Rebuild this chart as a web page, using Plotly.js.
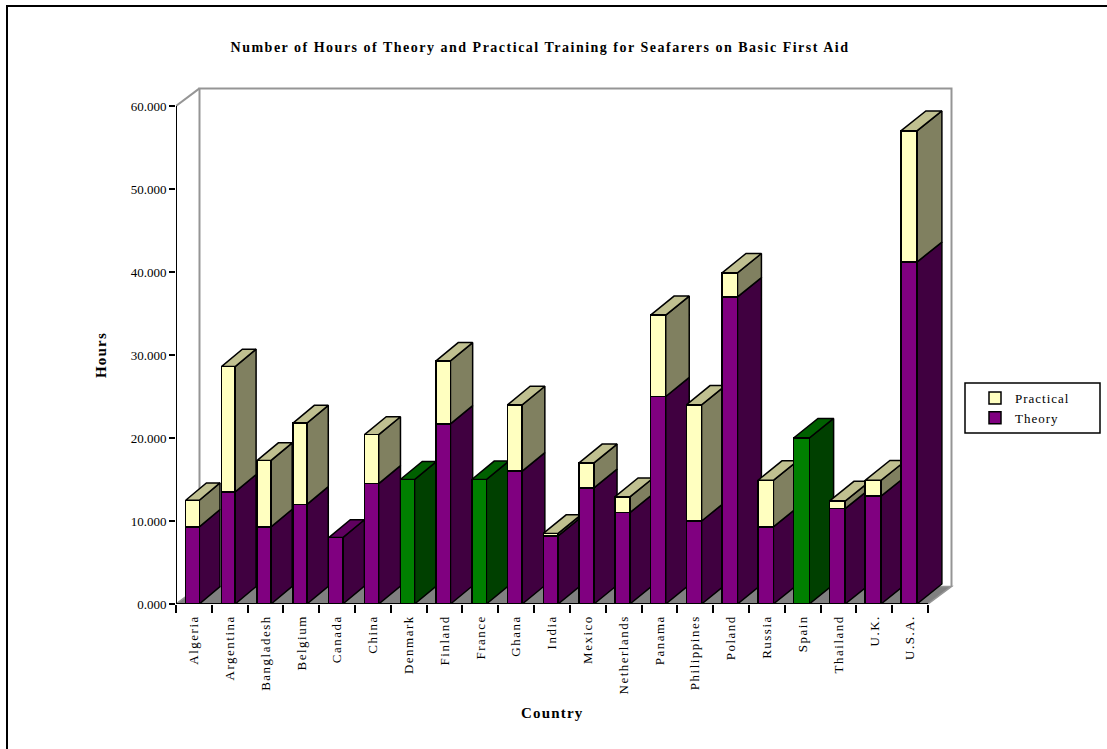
<!DOCTYPE html>
<html><head><meta charset="utf-8">
<script src="https://cdn.plot.ly/plotly-3.0.1.min.js"></script>
<style>
body{margin:0;background:#fff}
#chart{width:1107px;height:749px}
.gtitle{letter-spacing:1.5px}
.xtick text{letter-spacing:1.5px}
.annotation-text{letter-spacing:1.2px}
.legendtext{letter-spacing:1px}
</style></head><body><div id="chart"></div>
<script>
// ---- data ----
const countries = ['Algeria','Argentina','Bangladesh','Belgium','Canada','China','Denmark','Finland','France','Ghana','India','Mexico','Netherlands','Panama','Philippines','Poland','Russia','Spain','Thailand','U.K.','U.S.A.'];
const theory    = [9.3, 13.5, 9.3, 12.0, 8.0, 14.5, 15.0, 21.7, 15.0, 16.0, 8.2, 14.0, 11.0, 25.0, 10.0, 37.0, 9.3, 20.0, 11.5, 13.0, 41.2];
const practical = [3.2, 15.1, 8.0, 9.8, 0.0, 5.9, 0.0, 7.6, 0.0, 8.0, 0.3, 3.0, 1.9, 9.8, 14.0, 2.9, 5.6, 0.0, 0.9, 1.9, 15.8];
const greenCountries = ['Denmark','France','Spain'];
const yTickVals = [0, 10, 20, 30, 40, 50, 60];
const titleText = 'Number of Hours of Theory and Practical Training for Seafarers on Basic First Aid';
const xTitle = 'Country';
const yTitle = 'Hours';

// ---- geometry (pixels -> axis units) ----
const W = 1107, H = 749, ML = 176, MR = 147, MT = 80, MB = 145;
const n = countries.length;
const PXX = 752 / n;          // px per category
const PXY = 498 / 60;         // px per hour
const XMIN = -0.5, XMAX = n - 0.5 + 32 / PXX;
const YMAX = (H - MB - MT) / PXY;
const FDX = 23.5 / PXX, FDY = 17.6 / PXY;   // floor / wall depth
const PW = W - ML - MR, PH = H - MT - MB;
const px2paperX = px => (px - ML) / PW;
const px2paperY = py => (H - MB - py) / PH;

const idx = countries.map((c, i) => i);
const isGreen = countries.map(c => greenCountries.includes(c));
const totals = theory.map((t, i) => t + practical[i]);

const C = {
  th: '#800080', thSide: '#400040', thTop: '#600060',
  gr: '#008000', grSide: '#004000', grTop: '#006000',
  pr: '#FFFFC0', prSide: '#808060', prTop: '#C0C090',
  floor: '#808080', wall: '#959595'
};

function geom(i) {
  const t = i / (n - 1);
  const fl = 9.7 - 1.0 * t, fw = 13.6 + 2.4 * t;
  const dx = (20.7 + 4.3 * t) / PXX, dy = (17.3 + 2.7 * t) / PXY;
  const xl = i - 0.5 + fl / PXX, xr = xl + fw / PXX;
  return {xl, xr, dx, dy, w: fw / PXX, off: xl - i};
}
const G = idx.map(geom);

function poly() { return {x: [], y: []}; }
function addSide(p, g, y0, y1) {
  p.x.push(g.xr, g.xr + g.dx, g.xr + g.dx, g.xr, g.xr, null);
  p.y.push(y0, y0 + g.dy, y1 + g.dy, y1, y0, null);
}
function addTop(p, g, y) {
  p.x.push(g.xl, g.xr, g.xr + g.dx, g.xl + g.dx, g.xl, null);
  p.y.push(y, y, y + g.dy, y + g.dy, y, null);
}
const sTh = poly(), sGr = poly(), sPr = poly(), tTh = poly(), tGr = poly(), tPr = poly();
idx.forEach(i => {
  const g = G[i];
  addSide(isGreen[i] ? sGr : sTh, g, 0, theory[i]);
  if (practical[i] > 0) {
    addSide(sPr, g, theory[i], totals[i]);
    addTop(tPr, g, totals[i]);
  } else {
    addTop(isGreen[i] ? tGr : tTh, g, totals[i]);
  }
});
function polyTrace(p, fill) {
  return {type: 'scatter', mode: 'lines', x: p.x, y: p.y, fill: 'toself', fillcolor: fill,
    line: {color: '#000', width: 1.5}, hoverinfo: 'skip', showlegend: false, xaxis: 'x', yaxis: 'y'};
}

const traces = [
  polyTrace(sTh, C.thSide), polyTrace(sGr, C.grSide), polyTrace(sPr, C.prSide),
  polyTrace(tTh, C.thTop), polyTrace(tGr, C.grTop), polyTrace(tPr, C.prTop),
  {type: 'bar', name: 'Theory', x: idx, y: theory, xaxis: 'x2', yaxis: 'y2',
   width: G.map(g => g.w), offset: G.map(g => g.off),
   marker: {color: isGreen.map(gg => gg ? C.gr : C.th), line: {color: '#000', width: 1.5}},
   hovertext: countries, hoverinfo: 'text+y'},
  {type: 'bar', name: 'Practical', x: idx, y: practical, xaxis: 'x2', yaxis: 'y2',
   width: G.map(g => g.w), offset: G.map(g => g.off),
   marker: {color: C.pr, line: {color: '#000', width: 1.5}},
   hovertext: countries, hoverinfo: 'text+y'}
];

const serif = 'Liberation Serif, Times New Roman, serif';
const shapes = [
  // floor
  {type: 'path', layer: 'below', xref: 'x', yref: 'y',
   path: `M${XMIN},0 L${n - 0.5},0 L${n - 0.5 + FDX},${FDY} L${XMIN + FDX},${FDY} Z`,
   fillcolor: C.floor, line: {color: C.wall, width: 1.5}},
  // back wall
  {type: 'path', layer: 'below', xref: 'x', yref: 'y',
   path: `M${XMIN + FDX},${FDY} L${XMIN + FDX},${60 + FDY} L${n - 0.5 + FDX},${60 + FDY} L${n - 0.5 + FDX},${FDY}`,
   line: {color: C.wall, width: 2}},
  {type: 'line', layer: 'below', xref: 'x', yref: 'y', x0: XMIN, y0: 60, x1: XMIN + FDX, y1: 60 + FDY,
   line: {color: C.wall, width: 2}},
  // axis lines
  {type: 'line', layer: 'above', xref: 'x', yref: 'y', x0: XMIN, y0: 0, x1: n - 0.5, y1: 0,
   line: {color: '#000', width: 2}},
  {type: 'line', layer: 'above', xref: 'x', yref: 'y', x0: XMIN, y0: 0, x1: XMIN, y1: 60,
   line: {color: '#000', width: 2}},
  // legend frame
  {type: 'rect', layer: 'above', xref: 'paper', yref: 'paper',
   x0: px2paperX(965), x1: px2paperX(1100), y0: px2paperY(433), y1: px2paperY(383),
   line: {color: '#000', width: 1.5}, fillcolor: 'rgba(0,0,0,0)'},
  // outer frame
  {type: 'rect', layer: 'above', xref: 'paper', yref: 'paper',
   x0: px2paperX(7), x1: px2paperX(W + 10), y0: px2paperY(H + 10), y1: px2paperY(6),
   line: {color: '#000', width: 2}}
];

const layout = {
  width: W, height: H,
  margin: {l: ML, r: MR, t: MT, b: MB},
  paper_bgcolor: '#fff', plot_bgcolor: 'rgba(0,0,0,0)',
  barmode: 'stack',
  showlegend: true,
  font: {family: serif, color: '#000', size: 13},
  title: {text: titleText,
          font: {family: serif, size: 14, weight: 'bold', color: '#000'},
          x: 540 / W, xanchor: 'center', xref: 'container', y: 1 - 47 / H, yanchor: 'middle', yref: 'container'},
  xaxis: {range: [XMIN, XMAX], tickmode: 'array', tickvals: idx, ticktext: countries, tickangle: -90,
          ticks: 'outside', ticklen: 5, tickcolor: 'rgba(0,0,0,0)', showline: false, zeroline: false, showgrid: false,
          tickfont: {family: serif, size: 13, color: '#000'}, fixedrange: true},
  xaxis2: {overlaying: 'x', anchor: 'y', side: 'bottom', range: [XMIN, XMAX], tickmode: 'array',
           tickvals: idx.map(i => i - 0.5).concat([n - 0.5]), showticklabels: false,
           ticks: 'outside', ticklen: 8, tickwidth: 2, tickcolor: '#000',
           showline: false, zeroline: false, showgrid: false, fixedrange: true},
  yaxis: {range: [0, YMAX], tickmode: 'array', tickvals: yTickVals, tickformat: '.3f',
          ticks: 'outside', ticklen: 6, tickwidth: 2, tickcolor: '#000', showline: false, zeroline: false, showgrid: false,
          tickfont: {family: serif, size: 13, color: '#000'}, fixedrange: true},
  yaxis2: {overlaying: 'y', anchor: 'x', range: [0, YMAX], visible: false, fixedrange: true},
  legend: {x: px2paperX(975), xanchor: 'left', y: px2paperY(408), yanchor: 'middle',
           traceorder: 'reversed', borderwidth: 0, bgcolor: 'rgba(0,0,0,0)',
           font: {family: serif, size: 13, color: '#000'}},
  annotations: [
    {text: yTitle, xref: 'paper', yref: 'paper', x: px2paperX(101), y: px2paperY(355), textangle: -90,
     xanchor: 'center', yanchor: 'middle', showarrow: false,
     font: {family: serif, size: 15, weight: 'bold', color: '#000'}},
    {text: xTitle, xref: 'paper', yref: 'paper', x: px2paperX(552), y: px2paperY(713),
     xanchor: 'center', yanchor: 'middle', showarrow: false,
     font: {family: serif, size: 15, weight: 'bold', color: '#000'}}
  ],
  shapes: shapes
};

Plotly.newPlot('chart', traces, layout, {displayModeBar: false, responsive: false});
</script></body></html>
